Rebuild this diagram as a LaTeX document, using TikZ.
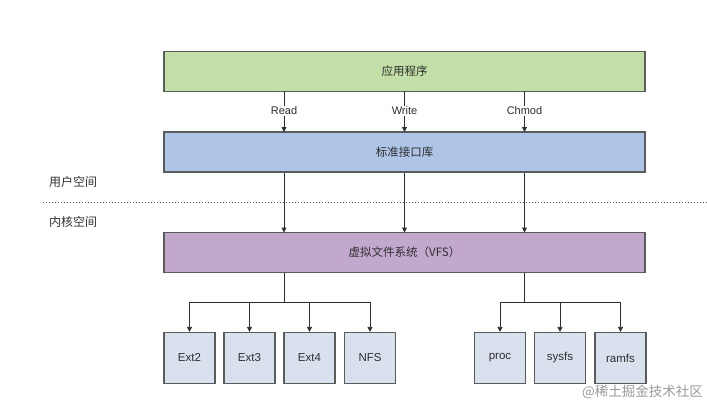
\documentclass[tikz,border=0pt]{standalone}
\usepackage{fontspec}
\setmainfont{Liberation Sans}
\newfontfamily\cjk{Noto Sans CJK SC}
\usetikzlibrary{arrows.meta}
\definecolor{appgreen}{HTML}{C3DFA7}
\definecolor{libblue}{HTML}{AEC5E8}
\definecolor{vfspurple}{HTML}{C3A8CE}
\definecolor{fsgray}{HTML}{D9E1EE}
\definecolor{edge}{HTML}{585C5A}
\definecolor{txt}{HTML}{2E2E2E}
\tikzset{
  layer/.style={draw=edge, line width=1.2pt, minimum width=481pt, minimum height=40pt, inner sep=0pt, text=txt, font=\cjk\fontsize{11.5}{13}\selectfont},
  fsbox/.style={draw=edge, line width=1.2pt, fill=fsgray, minimum width=51pt, minimum height=51pt, inner sep=0pt, text=txt, font=\fontsize{11.5}{13}\selectfont},
  conn/.style={draw=txt, line width=0.8pt},
  arr/.style={conn, -{Triangle[length=5pt,width=5pt]}},
  lbl/.style={text=txt, font=\fontsize{11}{13}\selectfont, fill=white, inner sep=1pt},
  side/.style={text=txt, font=\cjk\fontsize{12}{14}\selectfont, anchor=west, inner sep=0pt}
}
\begin{document}
\begin{tikzpicture}[x=1pt,y=-1pt]
\useasboundingbox (0,0) rectangle (707,404);
\node[layer, fill=appgreen] (app) at (404.5,71.5) {应用程序};
\node[layer, fill=libblue] (lib) at (404.5,152) {标准接口库};
\node[layer, fill=vfspurple] (vfs) at (404.5,252.5) {虚拟文件系统（VFS）};
\node[side] (user) at (49,182) {用户空间};
\node[side] (kern) at (49,222) {内核空间};
\coordinate (dl) at (43,202);
\coordinate (dr) at (707,202);
\draw[edge, line width=0.9pt, dash pattern=on 1.2pt off 1.8pt] (dl) -- (dr);
% top arrows
\foreach \x/\t/\n in {284/Read/r, 404.5/Write/w, 524.5/Chmod/c}{
  \coordinate (a\n) at (\x,91.5);
  \coordinate (b\n) at (\x,132);
  \draw[arr] (a\n) -- (b\n);
  \node[lbl] (l\n) at (\x,111) {\t};
  \coordinate (c\n) at (\x,172.5);
  \coordinate (d\n) at (\x,232.5);
  \draw[arr] (c\n) -- (d\n);
}
% fs boxes
\node[fsbox] (ext2) at (189.5,358) {Ext2};
\node[fsbox] (ext3) at (249.5,358) {Ext3};
\node[fsbox] (ext4) at (309.5,358) {Ext4};
\node[fsbox] (nfs) at (370,358) {NFS};
\node[fsbox] (proc) at (500,358) {proc};
\node[fsbox] (sysfs) at (560,358) {sysfs};
\node[fsbox] (ramfs) at (620.5,358) {ramfs};
\coordinate (vl) at (284,272.5);
\coordinate (jl) at (284,302);
\coordinate (vr) at (524.5,272.5);
\coordinate (jr) at (524.5,302);
\draw[conn] (vl) -- (jl);
\draw[conn] (vr) -- (jr);
\foreach \b in {ext2,ext3,ext4,nfs}{
  \draw[arr] (jl) -| (\b.north);
}
\foreach \b in {proc,sysfs,ramfs}{
  \draw[arr] (jr) -| (\b.north);
}
\node[anchor=east, text=black!40, font=\cjk\fontsize{13.5}{15}\selectfont, inner sep=0pt] (wm) at (703,392) {@稀土掘金技术社区};
\end{tikzpicture}
\end{document}
